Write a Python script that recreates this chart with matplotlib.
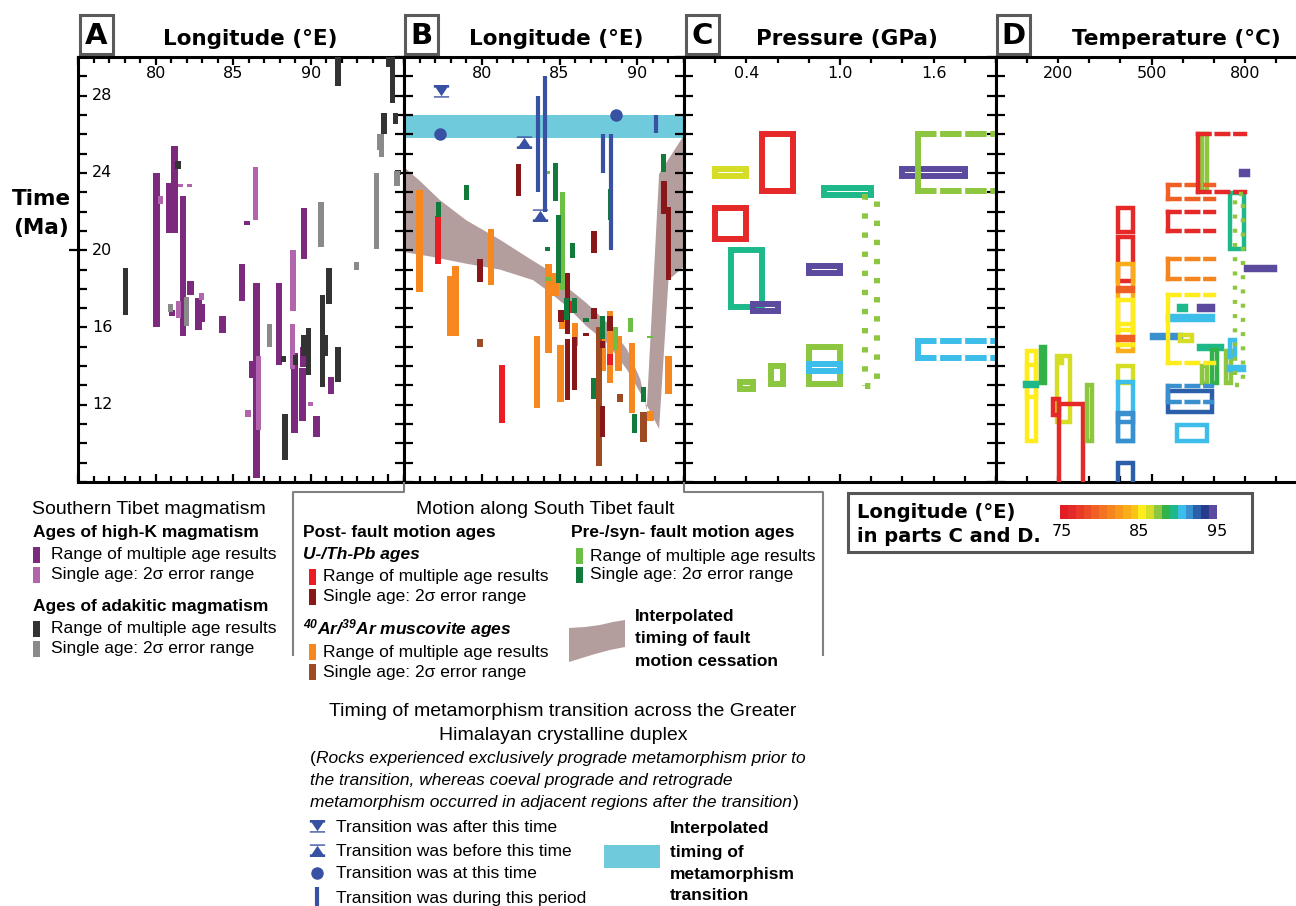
import numpy as np
import matplotlib
matplotlib.use('Agg')
import matplotlib.pyplot as plt
from matplotlib.patches import Rectangle, Polygon
from matplotlib.colors import ListedColormap, Normalize
from matplotlib.path import Path
from matplotlib.ticker import MultipleLocator, FixedLocator

plt.rcParams['font.family'] = ['DejaVu Sans']
plt.rcParams['mathtext.fontset'] = 'custom'
plt.rcParams['mathtext.bfit'] = 'Liberation Sans:bold:italic'
SANS = ['Liberation Sans', 'DejaVu Sans']

# ---------------- data : panel A (lon, t_min, t_max) ----------------
hik_range = [(80.05, 16.0, 24.0), (80.85, 20.9, 23.5), (81.2, 20.9, 25.4), (81.75, 15.55, 22.8),
             (82.25, 17.7, 18.4), (82.75, 15.85, 17.5), (83.0, 16.3, 17.2), (84.3, 15.7, 16.6),
             (85.55, 17.35, 19.3), (85.9, 21.3, 21.5), (86.5, 8.2, 18.3), (86.2, 13.4, 14.25),
             (87.95, 14.05, 18.3), (88.95, 10.55, 14.7), (89.55, 19.55, 22.2), (89.5, 13.95, 15.0),
             (89.45, 11.15, 13.9), (91.3, 12.55, 13.45), (90.35, 10.35, 11.4), (81.05, 16.6, 16.9)]
hik_single = [(80.3, 22.4, 22.8), (81.6, 23.25, 23.45), (82.2, 23.25, 23.45), (81.5, 16.5, 17.35),
              (82.95, 17.4, 17.8), (86.45, 21.55, 24.3), (86.6, 10.7, 14.5), (85.95, 11.35, 11.75),
              (88.85, 16.85, 20.0), (88.8, 13.85, 16.2), (89.95, 11.95, 12.15)]
adak_range = [(78.05, 16.65, 19.1), (81.45, 24.2, 24.6), (88.25, 14.2, 14.5), (89.0, 14.05, 14.6),
              (89.85, 13.55, 15.95), (89.55, 14.5, 15.6), (90.75, 12.9, 17.7), (90.9, 14.5, 15.6),
              (91.15, 17.2, 19.1), (91.75, 13.2, 15.0), (88.35, 9.15, 11.5), (91.75, 28.5, 30.0),
              (94.7, 26.0, 27.1), (95.25, 27.6, 30.0), (95.45, 26.55, 27.1), (95.0, 29.5, 30.0),
              (95.6, 23.9, 24.15)]
adak_single = [(80.95, 16.8, 17.2), (82.0, 16.1, 17.6), (87.35, 15.0, 16.2), (90.65, 20.15, 22.5),
               (92.95, 19.0, 19.4), (94.25, 20.05, 24.0), (94.4, 25.2, 26.0), (94.55, 24.8, 26.0),
               (95.55, 23.3, 24.1)]

# ---------------- data : panel B ----------------
uth_range = [(77.2, 19.3, 21.75), (81.3, 11.05, 14.05), (85.7, 16.75, 17.35), (88.25, 14.05, 14.65)]
uth_single = [(79.9, 18.35, 19.55), (82.35, 22.8, 24.45), (85.5, 15.65, 18.8), (85.1, 16.3, 16.9),
              (85.5, 12.25, 15.4), (85.95, 12.75, 15.5), (86.7, 15.55, 15.7), (87.2, 19.85, 21.0),
              (87.2, 16.45, 17.0), (87.75, 14.95, 15.3), (87.75, 10.35, 11.95), (88.25, 15.8, 16.6),
              (91.7, 21.85, 23.6), (92.0, 18.45, 22.25)]
ar_range = [(76.0, 17.85, 23.1), (77.95, 15.55, 18.65), (78.3, 15.55, 19.2), (80.6, 18.2, 21.1),
            (83.55, 11.85, 15.55), (84.3, 14.7, 19.3), (84.75, 17.65, 18.8), (85.2, 15.9, 16.4),
            (85.05, 12.15, 15.1), (86.0, 15.05, 16.25), (87.75, 13.75, 15.7), (88.25, 13.15, 16.85),
            (88.8, 13.75, 15.55), (89.65, 11.55, 15.2), (90.85, 11.15, 11.7), (92.0, 12.55, 14.5)]
ar_single = [(79.9, 15.0, 15.4), (87.55, 8.85, 16.0), (88.9, 12.15, 12.55), (90.4, 10.05, 11.6)]
pre_range = [(84.2, 23.95, 24.1), (84.25, 18.4, 18.6), (85.2, 17.95, 23.0), (88.6, 14.85, 16.0),
             (89.55, 15.75, 16.5), (90.8, 15.45, 15.55)]
pre_single = [(77.2, 21.7, 22.5), (79.0, 22.6, 23.4), (84.2, 19.95, 20.15), (84.75, 22.55, 24.5),
              (84.95, 18.3, 21.8), (85.45, 16.4, 17.5), (85.95, 16.75, 17.5), (85.85, 19.6, 20.35),
              (86.7, 16.3, 16.5), (87.2, 12.3, 13.4), (87.75, 15.4, 16.6), (88.3, 21.55, 23.15),
              (89.8, 10.55, 11.5), (90.4, 12.15, 12.9), (91.7, 24.05, 25.0)]

# interpolated fault-motion cessation band (lon, time)
fault_upper = [(75.0, 24.3), (76.0, 23.6), (77.3, 22.6), (79.0, 21.55), (81.15, 20.55), (82.9, 19.65),
               (84.2, 19.0), (85.45, 18.1), (86.75, 17.25), (88.05, 16.25), (89.35, 14.85),
               (90.2, 13.3), (90.6, 11.7), (91.4, 23.95), (93.0, 25.95)]
fault_lower = [(93.0, 19.15), (92.0, 18.45), (91.4, 10.75), (90.2, 12.6), (89.35, 13.8), (88.05, 15.2),
               (86.75, 16.05), (85.45, 17.1), (84.15, 17.95), (83.3, 18.45), (81.15, 19.0),
               (79.0, 19.3), (76.85, 19.65), (75.0, 19.9)]
meta_band = (25.8, 27.0)

after_marks = [(77.4, 28.25)]
before_marks = [(82.7, 25.6), (83.75, 21.8)]
at_marks = [(77.3, 26.0), (88.6, 27.0)]
during_bars = [(83.6, 23.0, 28.0), (84.05, 22.0, 29.0), (91.2, 26.05, 27.0), (87.8, 24.0, 26.0),
               (88.3, 20.0, 26.0)]

# ---------------- data : panel C (lon, P_min, P_max, t_min, t_max) ----------------
c_boxes = [(86.5, 0.2, 0.4, 23.82, 24.18), (76, 0.5, 0.7, 23.05, 26.0), (76, 0.2, 0.4, 20.6, 22.2),
           (89.5, 0.3, 0.5, 17.05, 20.0), (94.5, 0.44, 0.6, 16.83, 17.2), (89.5, 0.9, 1.2, 22.87, 23.23),
           (94.5, 0.8, 1.0, 18.83, 19.2), (94.5, 1.4, 1.8, 23.82, 24.18), (87.5, 0.8, 1.0, 13.05, 15.0),
           (90.5, 0.8, 1.0, 13.73, 14.1), (87.5, 0.56, 0.635, 13.05, 14.0), (87.5, 0.36, 0.44, 12.84, 13.2)]
c_open = [(87.5, 1.5, 2.05, 23.05, 26.0), (90.5, 1.5, 2.05, 14.4, 15.3)]
c_dotted = [(87.5, 1.16, 1.24, 12.95, 22.75)]

# ---------------- data : panel D (lon, T_min, T_max, t_min, t_max) ----------------
d_boxes = [(85.5, 100, 130, 10.1, 14.8), (85.5, 100, 130, 12.4, 14.05), (89.5, 93, 132, 12.95, 13.1),
           (88.5, 146, 159, 13.1, 15.0), (86.5, 195, 237, 11.1, 14.5), (86.5, 203, 211, 14.15, 14.32),
           (76, 201, 281, 7.0, 12.06), (76, 183, 203, 11.45, 12.3), (87.5, 294, 309, 10.1, 13.0),
           (76, 393, 440, 18.4, 20.7), (76, 393, 440, 20.95, 22.2), (83.5, 393, 440, 14.8, 19.3),
           (79.5, 393, 440, 17.9, 18.05), (85.5, 393, 440, 15.1, 17.4), (85.5, 393, 440, 15.85, 16.2),
           (79.5, 393, 440, 15.35, 15.5), (86.5, 393, 440, 13.1, 14.0), (90.5, 393, 440, 10.1, 13.2),
           (91.5, 393, 440, 10.1, 11.55), (91.5, 393, 440, 11.1, 11.5), (92.8, 393, 440, 7.0, 9.0),
           (89.5, 588, 612, 16.9, 17.1), (94.5, 652, 697, 16.9, 17.1), (90.5, 552, 697, 16.4, 16.6),
           (91.5, 503, 596, 15.45, 15.62), (86.5, 591, 629, 15.3, 15.6), (89.5, 652, 727, 14.9, 15.05),
           (88.5, 693, 711, 13.1, 14.85), (87.5, 661, 679, 13.1, 14.0), (87.5, 741, 757, 13.1, 14.8),
           (90.5, 752, 768, 14.45, 15.35), (90.5, 750, 799, 13.8, 13.95), (89.5, 752, 799, 20.05, 22.95),
           (94.5, 787, 810, 23.9, 24.1), (94.5, 805, 897, 18.95, 19.15), (87.5, 661, 679, 23.05, 26.0),
           (92.8, 554, 693, 11.6, 12.7), (90.5, 583, 679, 10.1, 10.95)]
d_open = [(79.5, 552, 700, 22.66, 23.38), (76, 552, 700, 21.0, 22.0), (81.5, 552, 700, 18.53, 19.53),
          (85.5, 552, 700, 14.17, 17.69), (76, 650, 800, 23.0, 26.0), (91.5, 554, 693, 12.15, 12.95)]
d_dotted = [(87.5, 770, 795, 13.0, 22.9)]

# longitude colour scale used in parts C and D
lon_colors = ['#E31D25', '#E52828', '#E93A27', '#EC4B25', '#F05F23', '#F37321', '#F5861F',
              '#F8991C', '#FAAD19', '#FCC317', '#FFEC1C', '#D5DD25', '#8DC63F', '#33B24A',
              '#1DB98A', '#3CBDEA', '#3A8FCE', '#2C5FAA', '#273A8C', '#5B4A9E']
cmap = ListedColormap(lon_colors)
norm = Normalize(75, 95)

HIK_R, HIK_S, ADK_R, ADK_S = '#7B2A7D', '#B265AC', '#333333', '#8A8A8A'
UTH_R, UTH_S, AR_R, AR_S = '#EC1C24', '#88171A', '#F7871F', '#9D4B22'
PRE_R, PRE_S = '#6CBE45', '#127A3B'
BAND, META, BLUE = '#B39D9D', '#6FCBDC', '#3951A3'

W, H = 1296.0, 906.0
fig = plt.figure(figsize=(12.96, 9.06), dpi=100)


def panel(x0, x1, y0=57, y1=482):
    ax = fig.add_axes([x0 / W, 1 - y1 / H, (x1 - x0) / W, (y1 - y0) / H])
    ax.set_ylim(8, 30)
    for s in ax.spines.values():
        s.set_linewidth(2.2)
    ax.yaxis.set_major_locator(FixedLocator([20]))
    ax.yaxis.set_minor_locator(MultipleLocator(1))
    ax.tick_params(which='both', top=True, bottom=True, left=True, right=True,
                   labelleft=False, labelbottom=False, width=1.6)
    ax.tick_params(axis='x', which='major', direction='in', length=6)
    ax.tick_params(axis='x', which='minor', direction='in', length=4)
    ax.tick_params(axis='y', which='major', direction='inout', length=13)
    ax.tick_params(axis='y', which='minor', direction='in', length=6.5)
    return ax


def xlabels(ax, vals, texts):
    for v, t in zip(vals, texts):
        ax.text(v, 1 - 16 / 425, t, transform=ax.get_xaxis_transform(), ha='center', va='center',
                fontsize=11.5)


def bars(ax, data, color, w):
    lon = [d[0] for d in data]
    lo = np.array([d[1] for d in data])
    hi = np.array([d[2] for d in data])
    ax.bar(lon, hi - lo, bottom=lo, width=w, color=color, linewidth=0, zorder=3)


def boxes(ax, data, lw):
    for lon, a, b, t0, t1 in data:
        ax.add_patch(Rectangle((a, t0), b - a, t1 - t0, fill=False, ec=cmap(norm(lon)), lw=lw,
                               joinstyle='miter', zorder=3))


def open_boxes(ax, data, lw):
    for lon, a, b, t0, t1 in data:
        c = cmap(norm(lon))
        ax.plot([a, a], [t0, t1], color=c, lw=lw, solid_capstyle='projecting', zorder=3)
        for t in (t0, t1):
            ax.plot([a, b], [t, t], color=c, lw=lw, dashes=(2.6, 1.6), dash_capstyle='projecting',
                    zorder=3)


def dotted_boxes(ax, data, lw):
    for lon, a, b, t0, t1 in data:
        ax.add_patch(Rectangle((a, t0), b - a, t1 - t0, fill=False, ec=cmap(norm(lon)), lw=lw,
                               ls=(0, (0.9, 2.3)), zorder=3))


# ---------------- panel A ----------------
axA = panel(78, 404)
axA.set_xlim(75, 96)
axA.xaxis.set_major_locator(MultipleLocator(5))
axA.xaxis.set_minor_locator(MultipleLocator(1))
bars(axA, hik_range, HIK_R, 0.42)
bars(axA, hik_single, HIK_S, 0.33)
bars(axA, adak_range, ADK_R, 0.36)
bars(axA, adak_single, ADK_S, 0.33)
xlabels(axA, [80, 85, 90], ['80', '85', '90'])
for v in [28, 24, 20, 16, 12]:
    axA.text(24 / 326, v, str(v), transform=axA.get_yaxis_transform(), ha='center', va='center',
             fontsize=11.5)

# ---------------- panel B ----------------
axB = panel(404, 684)
axB.set_xlim(75, 93)
axB.xaxis.set_major_locator(MultipleLocator(5))
axB.xaxis.set_minor_locator(MultipleLocator(1))
axB.add_patch(Polygon(fault_upper + fault_lower, closed=True, fc=BAND, ec='none', zorder=1))
axB.axhspan(meta_band[0], meta_band[1], color=META, lw=0, zorder=1)
bars(axB, ar_range, AR_R, 0.42)
bars(axB, pre_range, PRE_R, 0.36)
bars(axB, ar_single, AR_S, 0.42)
bars(axB, uth_range, UTH_R, 0.4)
bars(axB, uth_single, UTH_S, 0.36)
bars(axB, pre_single, PRE_S, 0.33)
for lon, t0, t1 in during_bars:
    axB.plot([lon, lon], [t0, t1], color=BLUE, lw=3, solid_capstyle='butt', zorder=4)
after_path = Path(
    [(-1, 0.85), (1, 0.85), (1, 0.5), (-1, 0.5), (-1, 0.85),
     (-0.75, 0.5), (0.75, 0.5), (0, -0.62), (-0.75, 0.5),
     (-1, -0.62), (1, -0.62), (1, -0.8), (-1, -0.8), (-1, -0.62)],
    [Path.MOVETO, Path.LINETO, Path.LINETO, Path.LINETO, Path.CLOSEPOLY,
     Path.MOVETO, Path.LINETO, Path.LINETO, Path.CLOSEPOLY,
     Path.MOVETO, Path.LINETO, Path.LINETO, Path.LINETO, Path.CLOSEPOLY])
before_path = Path(after_path.vertices * np.array([1, -1]), after_path.codes)
axB.plot([m[0] for m in after_marks], [m[1] for m in after_marks], ls='none', marker=after_path,
         ms=11, color=BLUE, mew=0, zorder=5)
axB.plot([m[0] for m in before_marks], [m[1] for m in before_marks], ls='none', marker=before_path,
         ms=11, color=BLUE, mew=0, zorder=5)
axB.plot([m[0] for m in at_marks], [m[1] for m in at_marks], ls='none', marker='o', ms=9,
         color=BLUE, mew=0, zorder=5)
xlabels(axB, [80, 85, 90], ['80', '85', '90'])

# ---------------- panel C ----------------
axC = panel(684, 996)
axC.set_xlim(0, 2.0)
axC.xaxis.set_major_locator(FixedLocator([1.0]))
axC.xaxis.set_minor_locator(MultipleLocator(0.2))
boxes(axC, c_boxes, 4.3)
open_boxes(axC, c_open, 4.3)
dotted_boxes(axC, c_dotted, 4.3)
xlabels(axC, [0.4, 1.0, 1.6], ['0.4', '1.0', '1.6'])

# ---------------- panel D ----------------
axD = panel(996, 1307)
axD.set_xlim(0, 1000)
axD.xaxis.set_major_locator(FixedLocator([500]))
axD.xaxis.set_minor_locator(MultipleLocator(100))
boxes(axD, d_boxes, 3.2)
open_boxes(axD, d_open, 3.2)
dotted_boxes(axD, d_dotted, 3.2)
xlabels(axD, [200, 500, 800], ['200', '500', '800'])

# ---------------- colour bar ----------------
axCB = fig.add_axes([1060 / W, 1 - 519 / H, 157 / W, 14 / H])
axCB.imshow(np.arange(20).reshape(1, -1), cmap=cmap, aspect='auto', extent=[75, 95, 0, 1])
axCB.axis('off')

# ---------------- overlay: titles, labels and legends (pixel coordinates) ----------------
ov = fig.add_axes([0, 0, 1, 1], zorder=10)
ov.set_xlim(0, W)
ov.set_ylim(H, 0)
ov.axis('off')

for x0, letter in [(80, 'A'), (405, 'B'), (686, 'C'), (997, 'D')]:
    ov.add_patch(Rectangle((x0, 15), 33, 39, fc='white', ec='#5a5a5a', lw=2.2))
    ov.text(x0 + 16.5, 36, letter, ha='center', va='center', fontsize=21, fontweight='bold')
for xc, t in [(250, 'Longitude (°E)'), (556, 'Longitude (°E)'), (847, 'Pressure (GPa)'),
              (1176, 'Temperature (°C)')]:
    ov.text(xc, 39, t, ha='center', va='center', fontsize=15.5, fontweight='bold')
ov.text(41, 199, 'Time', ha='center', va='center', fontsize=15.5, fontweight='bold')
ov.text(41, 228, '(Ma)', ha='center', va='center', fontsize=15.5, fontweight='bold')

# colour bar box
ov.add_patch(Rectangle((848, 493), 404, 59, fill=False, ec='#555555', lw=2.2))
ov.text(857, 512, 'Longitude (°E)', va='center', fontsize=14, fontweight='bold')
ov.text(857, 536, 'in parts C and D.', va='center', fontsize=14, fontweight='bold')
for xc, t in [(1062, '75'), (1139, '85'), (1217, '95')]:
    ov.text(xc, 531, t, ha='center', va='center', fontsize=11.5)

# bracket
ov.plot([293, 293, 404, 404], [655, 492, 492, 483], color='#808080', lw=1.5)
ov.plot([823, 823, 684, 684], [655, 492, 492, 483], color='#808080', lw=1.5)


def txt(x, y, s, size=12.5, **kw):
    ov.text(x, y, s, va='center', fontsize=size, family=SANS, **kw)


def swatch(x, y, color):
    ov.add_patch(Rectangle((x, y - 8), 7, 16, color=color, lw=0))


# column 1
txt(32, 509, 'Southern Tibet magmatism', 14)
txt(33, 532, 'Ages of high-K magmatism', fontweight='bold')
swatch(33, 555, HIK_R); txt(51, 555, 'Range of multiple age results')
swatch(33, 575, HIK_S); txt(51, 575, 'Single age: 2σ error range')
txt(33, 607, 'Ages of adakitic magmatism', fontweight='bold')
swatch(33, 629, ADK_R); txt(51, 629, 'Range of multiple age results')
swatch(33, 649, ADK_S); txt(51, 649, 'Single age: 2σ error range')

# column 2
txt(545, 509, 'Motion along South Tibet fault', 14, ha='center')
txt(303, 532, 'Post- fault motion ages', fontweight='bold')
txt(303, 554, 'U-/Th-Pb ages', fontweight='bold', style='italic')
swatch(309, 577, UTH_R); txt(323, 577, 'Range of multiple age results')
swatch(309, 597, UTH_S); txt(323, 597, 'Single age: 2σ error range')
txt(303, 629, r'$\mathbfit{^{40}}$Ar/$\mathbfit{^{39}}$Ar muscovite ages', fontweight='bold',
    style='italic')
swatch(309, 652, AR_R); txt(323, 652, 'Range of multiple age results')
swatch(309, 672, AR_S); txt(323, 672, 'Single age: 2σ error range')
txt(571, 532, 'Pre-/syn- fault motion ages', fontweight='bold')
swatch(576, 556, PRE_R); txt(590, 556, 'Range of multiple age results')
swatch(576, 575, PRE_S); txt(590, 575, 'Single age: 2σ error range')
ov.add_patch(Polygon([(569, 628), (585, 627), (600, 625), (613, 622), (625, 620), (625, 647),
                      (610, 650), (595, 654), (582, 658), (569, 662)], closed=True, fc=BAND, ec='none'))
txt(635, 617, 'Interpolated', fontweight='bold')
txt(635, 639, 'timing of fault', fontweight='bold')
txt(635, 661, 'motion cessation', fontweight='bold')

# metamorphism legend
txt(563, 711, 'Timing of metamorphism transition across the Greater', 14, ha='center')
txt(563, 735, 'Himalayan crystalline duplex', 14, ha='center')
txt(310, 758, '(')
txt(316, 758, 'Rocks experienced exclusively prograde metamorphism prior to', style='italic')
txt(310, 780, 'the transition, whereas coeval prograde and retrograde', style='italic')
txt(310, 802, 'metamorphism occurred in adjacent regions after the transition', style='italic')
txt(793, 802, ')')
ov.plot([317], [826], ls='none', marker=after_path, ms=11, color=BLUE, mew=0)
ov.plot([317], [850], ls='none', marker=before_path, ms=11, color=BLUE, mew=0)
ov.plot([317], [873], ls='none', marker='o', ms=9, color=BLUE, mew=0)
ov.plot([317, 317], [887, 910], color=BLUE, lw=3, solid_capstyle='butt')
txt(336, 827, 'Transition was after this time')
txt(336, 851, 'Transition was before this time')
txt(336, 874, 'Transition was at this time')
txt(336, 898, 'Transition was during this period')
ov.add_patch(Rectangle((604, 845), 56, 23, color=META, lw=0))
txt(670, 828, 'Interpolated', fontweight='bold')
txt(670, 852, 'timing of', fontweight='bold')
txt(670, 874, 'metamorphism', fontweight='bold')
txt(670, 896, 'transition', fontweight='bold')

fig.savefig('out.png', dpi=100)
